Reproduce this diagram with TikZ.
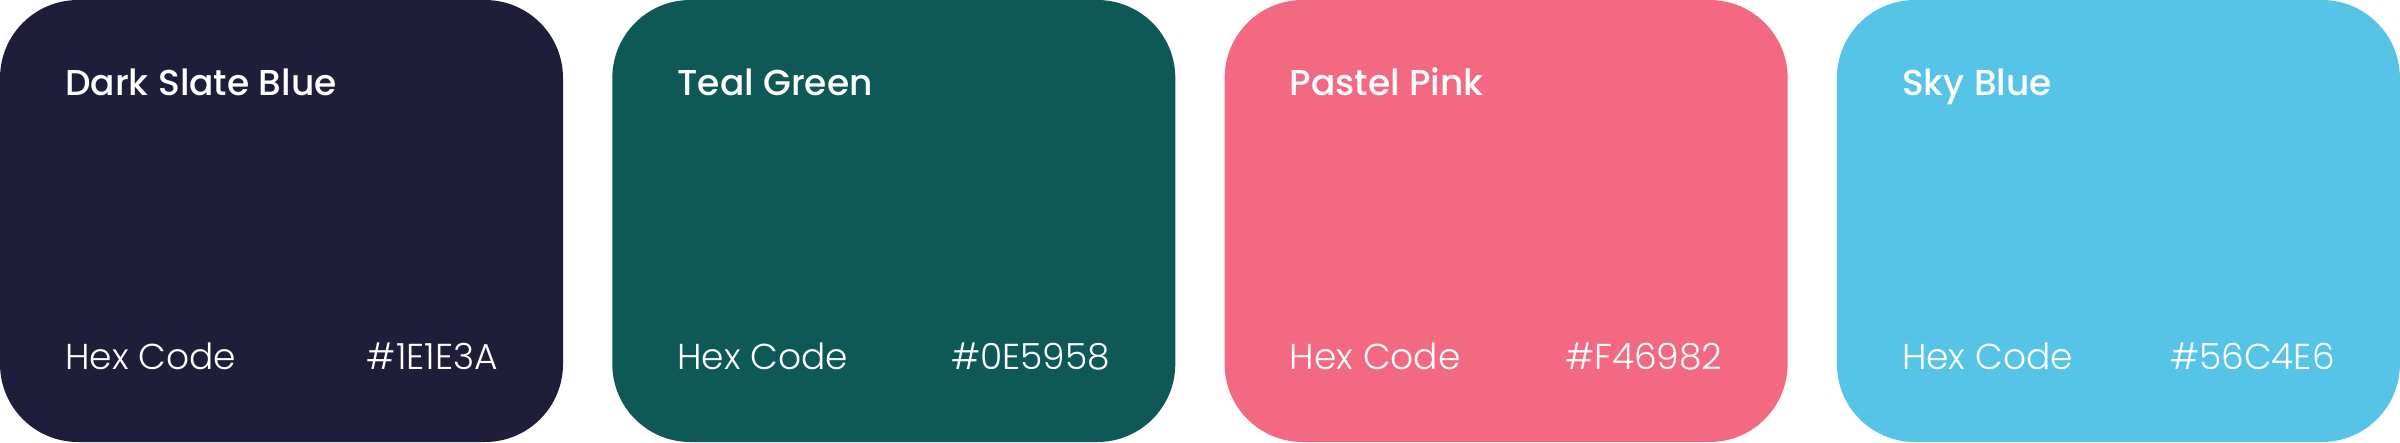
\documentclass[tikz,border=0pt]{standalone}
\usepackage{fontspec}
\setmainfont{Poppins}
\newfontfamily\titlefont{Poppins Medium}
\newfontfamily\hexfont{Poppins Light}
\definecolor{cA}{HTML}{1E1E3A}
\definecolor{cB}{HTML}{0E5958}
\definecolor{cC}{HTML}{F46982}
\definecolor{cD}{HTML}{56C4E6}
\tikzset{
  card/.style={rounded corners=78pt, draw=none},
  ttl/.style={anchor=base west, inner sep=0pt, text=white, font=\titlefont\fontsize{36}{40}\selectfont},
  lbl/.style={anchor=base west, inner sep=0pt, text=white, font=\hexfont\fontsize{36}{40}\selectfont},
  hex/.style={anchor=base east, inner sep=0pt, text=white, font=\hexfont\fontsize{36}{40}\selectfont},
}
\begin{document}
\begin{tikzpicture}[x=1pt,y=-1pt]
\useasboundingbox (0,0) rectangle (2400,442);
\foreach \i/\c/\name/\code in {0/cA/Dark Slate Blue/\#1E1E3A,1/cB/Teal Green/\#0E5958,2/cC/Pastel Pink/\#F46982,3/cD/Sky Blue/\#56C4E6}{
  \pgfmathsetmacro{\xo}{\i*612.3}
  \fill[card, fill=\c] (\xo,0) rectangle ++(563,442);
  \node[ttl] (t\i) at (\xo+65,95) {\name};
  \node[lbl] (l\i) at (\xo+65,369) {Hex Code};
  \node[hex] (h\i) at (\xo+498,369) {\code};
}
\end{tikzpicture}
\end{document}
